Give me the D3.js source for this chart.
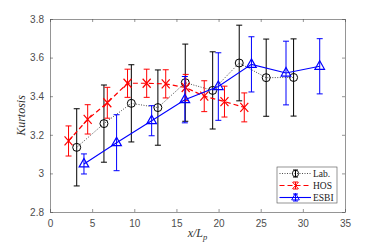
<!DOCTYPE html>
<html lang="en">
<head>
<meta charset="utf-8">
<title>Kurtosis vs x/Lp</title>
<script src="https://cdnjs.cloudflare.com/ajax/libs/d3/7.8.5/d3.min.js"></script>
<style>
body{margin:0;background:#fff;}
svg{display:block;}
.tick text{font-family:"Liberation Sans",Arial,sans-serif;font-size:10px;fill:#4d4d4d;}
</style>
</head>
<body>
<script>
// Lab. measurements
var labX   = [3.17, 6.4, 9.65, 12.8, 16.05, 19.3, 22.45, 25.65, 28.9];
var labY   = [3.135, 3.258, 3.363, 3.341, 3.47, 3.43, 3.572, 3.496, 3.497];
var labErr = [0.2, 0.2, 0.2, 0.195, 0.2, 0.2, 0.196, 0.2, 0.2];
// HOS simulation
var hosX   = [2.2, 4.47, 6.8, 9.2, 11.47, 13.73, 16.1, 18.3, 20.7, 23.05];
var hosY   = [3.168, 3.28, 3.366, 3.467, 3.467, 3.464, 3.445, 3.40, 3.372, 3.342];
var hosErr = [0.078, 0.076, 0.08, 0.073, 0.073, 0.073, 0.068, 0.08, 0.08, 0.075];
// ESBI simulation
var esbiX   = [4.03, 7.9, 12.06, 16.0, 19.97, 23.9, 28.0, 32.0];
var esbiY   = [3.049, 3.159, 3.273, 3.382, 3.45, 3.565, 3.52, 3.555];
var esbiErr = [0.052, 0.145, 0.078, 0.12, 0.175, 0.143, 0.165, 0.143];

var xTicks = [0, 5, 10, 15, 20, 25, 30, 35];
var yTicks = [2.8, 3, 3.2, 3.4, 3.6, 3.8];

var w = 382, h = 244;
var margin = {left: 50, right: 37, top: 19, bottom: 32};

var svg = d3.select("body").append("svg")
    .attr("width", w)
    .attr("height", h);

var x = d3.scaleLinear().domain([0, 35]).range([margin.left, w - margin.right]);
var y = d3.scaleLinear().domain([2.8, 3.8]).range([h - margin.bottom, margin.top]);

var axisColor = "#4d4d4d";

// axes with inward ticks (box style)
function styleAxis(g){
    g.select(".domain").attr("stroke", axisColor).attr("stroke-width", 0.6);
    g.selectAll(".tick line").attr("stroke", axisColor).attr("stroke-width", 0.6);
}
svg.append("g")
    .attr("transform", "translate(0," + y.range()[0] + ")")
    .call(d3.axisBottom(x).tickValues(xTicks).tickSize(-3).tickPadding(8).tickSizeOuter(0))
    .call(styleAxis);
svg.append("g")
    .attr("transform", "translate(0," + y.range()[1] + ")")
    .call(d3.axisTop(x).tickValues(xTicks).tickSize(-3).tickFormat("").tickSizeOuter(0))
    .call(styleAxis);
svg.append("g")
    .attr("transform", "translate(" + x.range()[0] + ",0)")
    .call(d3.axisLeft(y).tickValues(yTicks).tickSize(-3).tickPadding(6).tickSizeOuter(0)
        .tickFormat(function(d){ return d3.format("")(+d.toFixed(1)); }))
    .call(styleAxis);
svg.append("g")
    .attr("transform", "translate(" + x.range()[1] + ",0)")
    .call(d3.axisRight(y).tickValues(yTicks).tickSize(-3).tickFormat("").tickSizeOuter(0))
    .call(styleAxis);

// axis titles
svg.append("text")
    .attr("transform", "translate(25," + ((y.range()[0] + y.range()[1]) / 2) + ") rotate(-90)")
    .attr("text-anchor", "middle")
    .attr("font-family", "'Liberation Serif','Times New Roman',serif")
    .attr("font-style", "italic")
    .attr("font-size", 12)
    .attr("fill", "#333")
    .text("Kurtosis");

var xl = svg.append("text")
    .attr("x", (x.range()[0] + x.range()[1]) / 2)
    .attr("y", 237)
    .attr("text-anchor", "middle")
    .attr("font-family", "'Liberation Serif','Times New Roman',serif")
    .attr("font-style", "italic")
    .attr("font-size", 12)
    .attr("fill", "#333");
xl.append("tspan").text("x/L");
xl.append("tspan").attr("dy", 3).attr("font-size", 8.5).text("p");

// markers
function circleMark(g, color){
    g.append("circle").attr("r", 4).attr("fill", "none").attr("stroke", color).attr("stroke-width", 1);
}
function crossMark(g, color){
    g.append("path").attr("d", "M-4,-4.5L4,4.5M-4,4.5L4,-4.5")
        .attr("fill", "none").attr("stroke", color).attr("stroke-width", 1.2);
}
function triMark(g, color){
    g.append("path").attr("d", "M0,-5.5L4.8,3L-4.8,3Z")
        .attr("fill", "none").attr("stroke", color).attr("stroke-width", 1.2);
}

var series = [
    {name: "Lab.", xs: labX, ys: labY, err: labErr, color: "#000000", dash: "1,1.5", lw: 0.7, mark: circleMark},
    {name: "HOS", xs: hosX, ys: hosY, err: hosErr, color: "#ff0000", dash: "5,3", lw: 1.2, mark: crossMark},
    {name: "ESBI", xs: esbiX, ys: esbiY, err: esbiErr, color: "#0000ff", dash: null, lw: 1.1, mark: triMark}
];

var line = d3.line().x(function(d){ return x(d[0]); }).y(function(d){ return y(d[1]); });
var cap = 3;

series.forEach(function(s){
    var pts = s.xs.map(function(v, i){ return [v, s.ys[i], s.err[i]]; });
    var g = svg.append("g");

    g.append("path")
        .attr("d", line(pts))
        .attr("fill", "none")
        .attr("stroke", s.color)
        .attr("stroke-width", s.lw)
        .attr("stroke-dasharray", s.dash);

    g.selectAll(".eb").data(pts).enter().append("path")
        .attr("d", function(d){
            var cx = x(d[0]), t = y(d[1] + d[2]), b = y(d[1] - d[2]);
            return "M" + cx + "," + t + "V" + b +
                   "M" + (cx - cap) + "," + t + "H" + (cx + cap) +
                   "M" + (cx - cap) + "," + b + "H" + (cx + cap);
        })
        .attr("fill", "none")
        .attr("stroke", s.color)
        .attr("stroke-width", 1);

    pts.forEach(function(d){
        var m = g.append("g").attr("transform", "translate(" + x(d[0]) + "," + y(d[1]) + ")");
        s.mark(m, s.color);
    });
});

// legend
var lg = svg.append("g").attr("transform", "translate(277,167)");
lg.append("rect")
    .attr("width", 60).attr("height", 36)
    .attr("fill", "#fff")
    .attr("stroke", axisColor)
    .attr("stroke-width", 0.6);

series.forEach(function(s, i){
    var yy = 6.5 + i * 12;
    lg.append("line")
        .attr("x1", 2.5).attr("x2", 34)
        .attr("y1", yy).attr("y2", yy)
        .attr("stroke", s.color)
        .attr("stroke-width", s.lw)
        .attr("stroke-dasharray", s.dash);
    lg.append("path")
        .attr("d", "M18.5," + (yy - 3.5) + "V" + (yy + 3.5) + "M16," + (yy - 3.5) + "H21M16," + (yy + 3.5) + "H21")
        .attr("stroke", s.color).attr("stroke-width", 1).attr("fill", "none");
    var m = lg.append("g").attr("transform", "translate(18.5," + yy + ") scale(0.8)");
    s.mark(m, s.color);
    lg.append("text")
        .attr("x", 36).attr("y", yy)
        .attr("dy", "0.35em")
        .attr("font-family", "'Liberation Serif','Times New Roman',serif")
        .attr("font-size", 9.5)
        .attr("fill", "#222")
        .text(s.name);
});
</script>
</body>
</html>
